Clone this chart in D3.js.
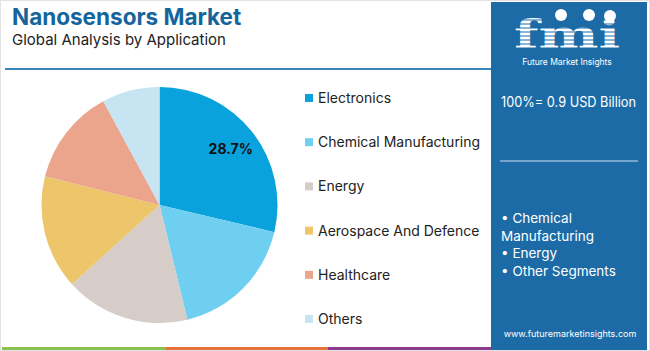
<!DOCTYPE html>
<html>
<head>
<meta charset="utf-8">
<script src="https://cdn.jsdelivr.net/npm/d3@7"></script>
<style>
  body { margin: 0; background: #fff; }
  svg { display: block; font-family: Inter, "Open Sans", sans-serif; }
</style>
</head>
<body>
<svg id="chart" width="650" height="351"></svg>
<script>
// data
const categories = ["Electronics", "Chemical Manufacturing", "Energy", "Aerospace And Defence", "Healthcare", "Others"];
const shares = [28.7, 17.5, 17.1, 15.6, 13.2, 7.9];
const colors = ["#0aa2dc", "#6fcff1", "#d6ccc8", "#edc56a", "#eba58c", "#c6e4f1"];
const labelled = ["28.7%", "", "", "", "", ""];
const bullets = ["• Chemical", "Manufacturing", "• Energy", "• Other Segments"];

const svg = d3.select("#chart");

// outer frame
svg.append("rect").attr("x", 0.5).attr("y", 0.5).attr("width", 649).attr("height", 350)
  .attr("fill", "none").attr("stroke", "#e2e2e2");

// title
svg.append("text").attr("x", 12).attr("y", 25)
  .attr("font-size", 22.5).attr("font-weight", 700).attr("fill", "#15659c")
  .text("Nanosensors Market");
svg.append("text").attr("x", 12).attr("y", 45)
  .attr("font-size", 15).attr("fill", "#222")
  .text("Global Analysis by Application");

svg.append("line").attr("x1", 5).attr("x2", 491).attr("y1", 69).attr("y2", 69)
  .attr("stroke", "#3a84ba").attr("stroke-width", 2);

// pie
const cx = 159.5, cy = 205, r = 118;
const pie = d3.pie().sort(null).value(d => d);
const arc = d3.arc().innerRadius(0).outerRadius(r);
const arcs = pie(shares);
const gPie = svg.append("g").attr("transform", `translate(${cx},${cy})`);
gPie.selectAll("path").data(arcs).enter().append("path")
  .attr("d", arc)
  .attr("fill", (d, i) => colors[i]);
const labelArc = d3.arc().innerRadius(r * 0.77).outerRadius(r * 0.77);
gPie.selectAll("text").data(arcs).enter().append("text")
  .attr("transform", d => `translate(${labelArc.centroid(d)})`)
  .attr("text-anchor", "middle").attr("dy", "0.35em")
  .attr("font-size", 14).attr("font-weight", 700).attr("fill", "#111")
  .text((d, i) => labelled[i]);

// legend
const legendY = d3.scalePoint().domain(categories).range([98, 319]);
const leg = svg.append("g").selectAll("g").data(categories).enter().append("g")
  .attr("transform", d => `translate(305,${legendY(d)})`);
leg.append("rect").attr("x", 0).attr("y", -4).attr("width", 8).attr("height", 8)
  .attr("fill", (d, i) => colors[i]);
leg.append("text").attr("x", 13).attr("dy", "0.35em")
  .attr("font-size", 14).attr("fill", "#222").text(d => d);

// right panel
const px = 491, pw = 156;
svg.append("rect").attr("x", px).attr("y", 2).attr("width", pw).attr("height", 348).attr("fill", "#1d6ba6");

// logo
const logo = svg.append("g");
logo.append("text").attr("x", 514).attr("y", 48)
  .attr("font-family", "DejaVu Serif, serif").attr("font-weight", 700).attr("font-size", 40)
  .attr("textLength", 106).attr("lengthAdjust", "spacingAndGlyphs")
  .attr("fill", "#fff").text("fmi");
for (let y = 20; y < 50; y += 4) {
  logo.append("line").attr("x1", 510).attr("x2", 628).attr("y1", y).attr("y2", y)
    .attr("stroke", "#1d6ba6").attr("stroke-width", 1.2);
}
[[561, 15], [589, 15], [610, 16]].forEach(p => {
  logo.append("circle").attr("cx", p[0]).attr("cy", p[1]).attr("r", 6).attr("fill", "#fff");
});
logo.append("text").attr("x", 567).attr("y", 65).attr("text-anchor", "middle")
  .attr("font-size", 8.5).attr("fill", "#fff").text("Future Market Insights");

svg.append("text").attr("x", 501).attr("y", 107).attr("font-size", 14)
  .attr("textLength", 135).attr("lengthAdjust", "spacingAndGlyphs")
  .attr("fill", "#fff").text("100%= 0.9 USD Billion");
svg.append("line").attr("x1", 500).attr("x2", 638).attr("y1", 161).attr("y2", 161)
  .attr("stroke", "#cfe0ee").attr("stroke-width", 1);

svg.append("g").selectAll("text").data(bullets).enter().append("text")
  .attr("x", 501).attr("y", (d, i) => 223 + i * 17.5)
  .attr("font-size", 13.5).attr("fill", "#fff").text(d => d);

svg.append("text").attr("x", 570).attr("y", 337).attr("text-anchor", "middle")
  .attr("font-size", 9).attr("fill", "#fff").text("www.futuremarketinsights.com");

// bottom stripe
const stripe = [["#8cc152", 2, 166], ["#e8713a", 166, 328], ["#8e3b8f", 328, 491]];
svg.append("g").selectAll("rect").data(stripe).enter().append("rect")
  .attr("x", d => d[1]).attr("y", 347).attr("width", d => d[2] - d[1]).attr("height", 3)
  .attr("fill", d => d[0]);
</script>
</body>
</html>
